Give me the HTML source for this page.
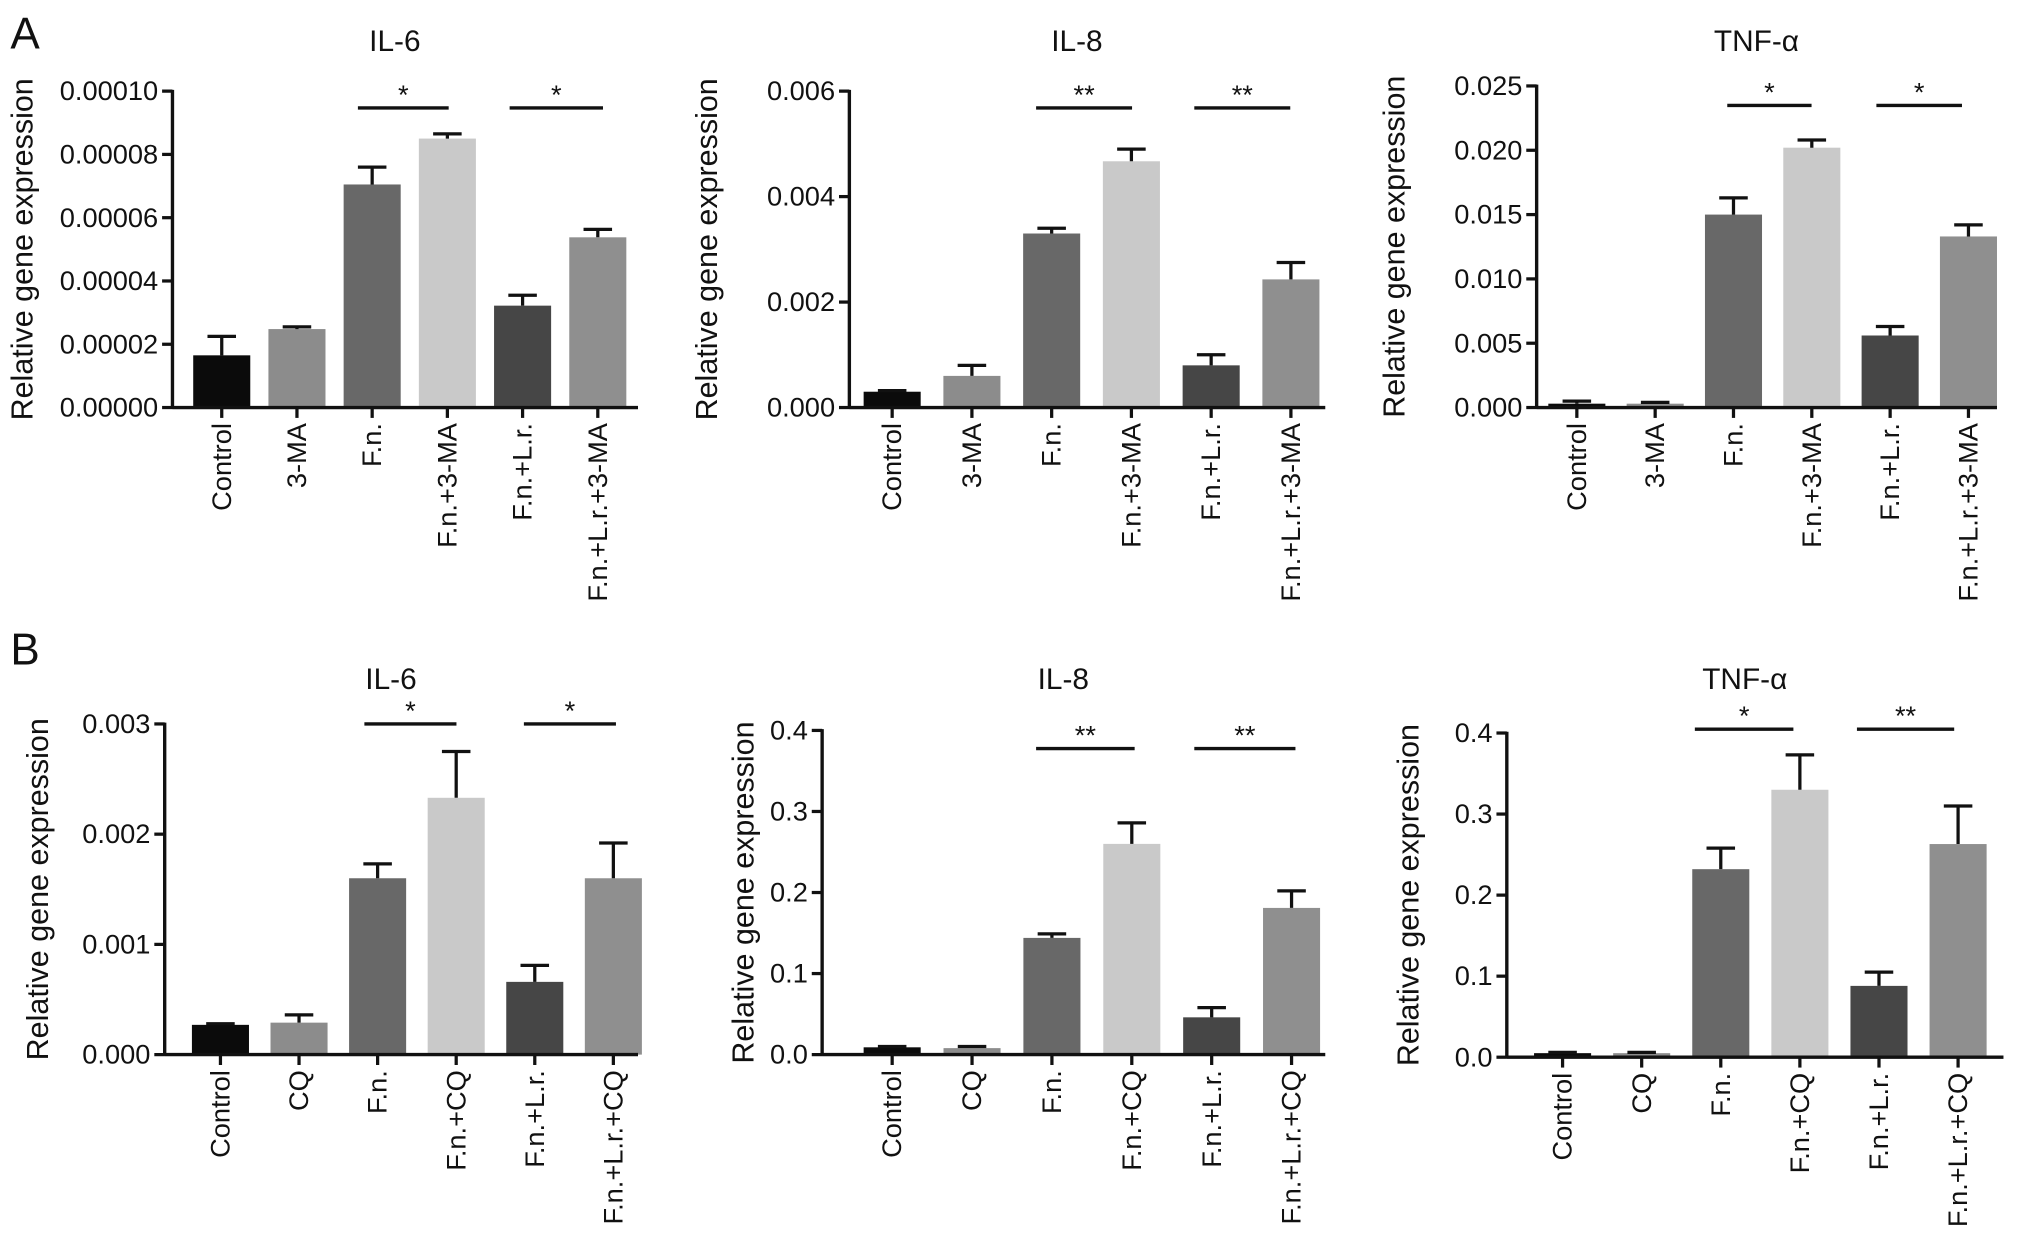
<!DOCTYPE html>
<html><head><meta charset="utf-8"><style>
html,body{margin:0;padding:0;background:#fff;width:2032px;height:1243px;overflow:hidden}
svg{display:block}
text{font-family:"Liberation Sans",Arial,sans-serif;fill:#111}
</style></head><body>
<svg id="fig" width="2032" height="1243" viewBox="0 0 1567 958" xmlns="http://www.w3.org/2000/svg">
<text x="8" y="37" font-size="34">A</text>
<text x="8" y="512" font-size="34">B</text>
</svg>
<script>
const catsA = ["Control","3-MA","F.n.","F.n.+3-MA","F.n.+L.r.","F.n.+L.r.+3-MA"];
const catsB = ["Control","CQ","F.n.","F.n.+CQ","F.n.+L.r.","F.n.+L.r.+CQ"];
const colors = ["#0b0b0b","#8c8c8c","#686868","#c9c9c9","#464646","#8f8f8f"];
const a1Vals = [0.0000165,0.0000248,0.0000705,0.000085,0.0000322,0.0000538];
const a1Errs = [0.0000225,0.0000255,0.000076,0.0000865,0.0000355,0.0000563];
const a1Ticks = ["0.00000","0.00002","0.00004","0.00006","0.00008","0.00010"];
const a2Vals = [0.0003,0.0006,0.0033,0.00467,0.0008,0.00243];
const a2Errs = [0.00032,0.0008,0.0034,0.0049,0.001,0.00275];
const a2Ticks = ["0.000","0.002","0.004","0.006"];
const a3Vals = [0.0003,0.0003,0.015,0.0202,0.0056,0.0133];
const a3Errs = [0.0005,0.0004,0.0163,0.0208,0.0063,0.0142];
const a3Ticks = ["0.000","0.005","0.010","0.015","0.020","0.025"];
const b1Vals = [0.00027,0.00029,0.0016,0.00233,0.00066,0.0016];
const b1Errs = [0.00028,0.00036,0.00173,0.00275,0.00081,0.00192];
const b1Ticks = ["0.000","0.001","0.002","0.003"];
const b2Vals = [0.009,0.008,0.144,0.26,0.046,0.181];
const b2Errs = [0.01,0.01,0.149,0.286,0.058,0.202];
const b2Ticks = ["0.0","0.1","0.2","0.3","0.4"];
const b3Vals = [0.005,0.005,0.232,0.33,0.088,0.263];
const b3Errs = [0.006,0.006,0.258,0.373,0.105,0.31];
const b3Ticks = ["0.0","0.1","0.2","0.3","0.4"];

const NS="http://www.w3.org/2000/svg";
const svg=document.getElementById('fig');
function mk(tag,attrs,parent){const e=document.createElementNS(NS,tag);for(const k in attrs)e.setAttribute(k,attrs[k]);(parent||svg).appendChild(e);return e;}

const panels=[
 {id:"a-il6",title:"IL-6",cats:catsA,vals:a1Vals,errs:a1Errs,ticks:a1Ticks,ax:133,top:70,zero:314,xr:492,bx0:171,bdx:58,ylx:25,tt:30,sy:83,s1:[276,346],s2:[393,465],stars:["*","*"]},
 {id:"a-il8",title:"IL-8",cats:catsA,vals:a2Vals,errs:a2Errs,ticks:a2Ticks,ax:655,top:70,zero:314,xr:1022,bx0:688,bdx:61.5,ylx:553,tt:30,sy:83,s1:[799,873],s2:[921,995],stars:["**","**"]},
 {id:"a-tnf",title:"TNF-α",cats:catsA,vals:a3Vals,errs:a3Errs,ticks:a3Ticks,ax:1185,top:66,zero:314,xr:1540,bx0:1216,bdx:60.4,ylx:1083,tt:30,sy:81,s1:[1332,1397],s2:[1447,1513],stars:["*","*"]},
 {id:"b-il6",title:"IL-6",cats:catsB,vals:b1Vals,errs:b1Errs,ticks:b1Ticks,ax:127,top:558,zero:813,xr:492,bx0:170,bdx:60.6,ylx:37,tt:522,sy:558,s1:[281,352],s2:[404,475],stars:["*","*"]},
 {id:"b-il8",title:"IL-8",cats:catsB,vals:b2Vals,errs:b2Errs,ticks:b2Ticks,ax:634,top:563,zero:813,xr:1022,bx0:688,bdx:61.6,ylx:581,tt:522,sy:577,s1:[799,875],s2:[921,999],stars:["**","**"]},
 {id:"b-tnf",title:"TNF-α",cats:catsB,vals:b3Vals,errs:b3Errs,ticks:b3Ticks,ax:1162,top:565,zero:815,xr:1545,bx0:1205,bdx:61,ylx:1094,tt:522,sy:562,s1:[1307,1383],s2:[1432,1507],stars:["*","**"]}
];

panels.forEach(p=>{
  const g=mk('g',{});
  
  
  const maxV=parseFloat(p.ticks[p.ticks.length-1]);
  const y=v=>p.zero-(v/maxV)*(p.zero-p.top);
  const x=i=>p.bx0+i*p.bdx;
  const t=mk('text',{x:(p.ax+p.xr)/2-8,y:p.tt+9,'font-size':23,'text-anchor':'middle'},g);
  t.textContent=p.title;
  
  
  const yl=mk('text',{x:0,y:0,'font-size':23.5,'text-anchor':'middle',transform:`translate(${p.ylx},${(p.top+p.zero)/2}) rotate(-90)`},g);
  yl.textContent="Relative gene expression";
  
  
  p.vals.forEach((v,i)=>{
    const cx=x(i),w=44;
    const r=mk('rect',{x:cx-w/2,y:y(v),width:w,height:p.zero-y(v),fill:colors[i]},g);
    
    
    const e=mk('path',{d:`M${cx} ${y(v)}V${y(p.errs[i])}M${cx-11} ${y(p.errs[i])}H${cx+11}`,stroke:'#111','stroke-width':2.5,fill:'none'},g);
    
    
    mk('line',{x1:cx,x2:cx,y1:p.zero,y2:p.zero+8,stroke:'#111','stroke-width':2.5},g);
    const lb=mk('text',{x:0,y:0,'font-size':21,'text-anchor':'end',transform:`translate(${cx+7},${p.zero+12}) rotate(-90)`},g);
    lb.textContent=p.cats[i];
    
    
  });
  const ya=mk('line',{x1:p.ax,x2:p.ax,y1:p.top-1,y2:p.zero+1,stroke:'#111','stroke-width':2.6},g);
  
  
  const xa=mk('line',{x1:p.ax,x2:p.xr,y1:p.zero,y2:p.zero,stroke:'#111','stroke-width':2.6},g);
  
  
  p.ticks.forEach(tk=>{
    const ty=y(parseFloat(tk));
    mk('line',{x1:p.ax-8,x2:p.ax,y1:ty,y2:ty,stroke:'#111','stroke-width':2.5},g);
    const tl=mk('text',{x:p.ax-11,y:ty+7,'font-size':21,'text-anchor':'end'},g);
    tl.textContent=tk;
    
    
  });
  [p.s1,p.s2].forEach((s,k)=>{
    const l=mk('line',{x1:s[0],x2:s[1],y1:p.sy,y2:p.sy,stroke:'#111','stroke-width':2.6},g);
    
    
    const st=mk('text',{x:(s[0]+s[1])/2,y:p.sy-3,'font-size':21,'text-anchor':'middle'},g);
    st.textContent=p.stars[k];
    
    
  });
});
</script>
</body></html>
